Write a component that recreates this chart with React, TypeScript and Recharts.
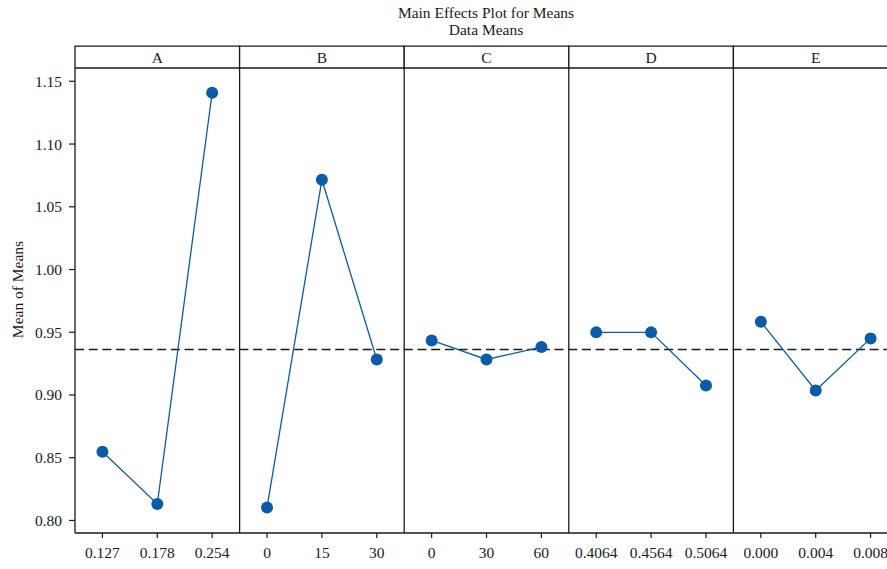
import React from 'react';
import { LineChart, Line, XAxis, YAxis, ReferenceLine, ReferenceArea, Label } from 'recharts';

// Factors and their levels
const factors = ['A', 'B', 'C', 'D', 'E'];
const levelLabels = [
  ['0.127', '0.178', '0.254'],
  ['0', '15', '30'],
  ['0', '30', '60'],
  ['0.4064', '0.4564', '0.5064'],
  ['0.000', '0.004', '0.008'],
];

// Mean response at each level
const meansA = [0.8548, 0.8131, 1.1409];
const meansB = [0.8104, 1.0715, 0.9283];
const meansC = [0.9435, 0.9283, 0.9382];
const meansD = [0.9499, 0.9499, 0.9076];
const meansE = [0.9584, 0.9036, 0.9451];

const yTicks = [0.8, 0.85, 0.9, 0.95, 1.0, 1.05, 1.1, 1.15];
const yMin = 0.79;
const yMax = 1.1606;
const stripSpan = 0.0175; // height of the factor-name strip, in data units

const allMeans = [meansA, meansB, meansC, meansD, meansE];
const levelsPerFactor = 3;

// One row per (factor, level); x is the slot position on a shared axis
const rows: Record<string, number>[] = [];
allMeans.forEach((vals, p) => {
  vals.forEach((v, i) => {
    rows.push({ x: p * levelsPerFactor + i + 0.5, [factors[p]]: v });
  });
});

const xTicks = rows.map((r) => r.x);
const tickText = (x: number) => {
  const idx = Math.round(x - 0.5);
  return levelLabels[Math.floor(idx / levelsPerFactor)][idx % levelsPerFactor];
};

const flat = allMeans.flat();
const grandMean = flat.reduce((a, b) => a + b, 0) / flat.length;

const FONT = '"Liberation Serif", "DejaVu Serif", serif';
const FS = 15.5;
const BLUE = '#0a5ba8';
const INK = '#1a1a1a';

export default function App() {
  const xEnd = factors.length * levelsPerFactor;
  return (
    <div
      style={{
        position: 'absolute',
        left: 0,
        top: 0,
        width: 887,
        height: 569,
        overflow: 'hidden',
        background: '#fff',
        fontFamily: FONT,
      }}
    >
      <div
        style={{
          position: 'absolute',
          left: 286,
          width: 400,
          top: 4,
          textAlign: 'center',
          fontSize: FS,
          lineHeight: '17px',
          color: INK,
        }}
      >
        <div>Main Effects Plot for Means</div>
        <div>Data Means</div>
      </div>
      <LineChart
        width={910}
        height={569}
        data={rows}
        margin={{ top: 68, right: 12, bottom: 0, left: 0 }}
        style={{ position: 'absolute', left: 0, top: 0 }}
      >
        <XAxis
          dataKey="x"
          type="number"
          domain={[0, xEnd]}
          ticks={xTicks}
          interval={0}
          tickFormatter={tickText}
          height={36}
          tickSize={5}
          tickMargin={9}
          allowDataOverflow
          axisLine={{ stroke: INK, strokeWidth: 1.3 }}
          tickLine={{ stroke: INK, strokeWidth: 1.2 }}
          tick={{ fill: INK, fontSize: FS, fontFamily: FONT }}
        />
        <YAxis
          type="number"
          domain={[yMin, yMax]}
          ticks={yTicks}
          allowDataOverflow
          width={75}
          tickSize={6}
          tickMargin={7}
          tickFormatter={(v: number) => v.toFixed(2)}
          axisLine={{ stroke: INK, strokeWidth: 1.3 }}
          tickLine={{ stroke: INK, strokeWidth: 1.2 }}
          tick={{ fill: INK, fontSize: FS, fontFamily: FONT }}
        >
          <Label
            content={(props: any) => {
              const vb = props.viewBox || { x: 0, y: 68, width: 75, height: 465 };
              const cx = vb.x + 17;
              const cy = vb.y + vb.height / 2 - 11;
              return (
                <text
                  x={cx}
                  y={cy}
                  transform={`rotate(-90 ${cx} ${cy})`}
                  textAnchor="middle"
                  dominantBaseline="central"
                  fontSize={FS}
                  fontFamily={FONT}
                  fill={INK}
                >
                  Mean of Means
                </text>
              );
            }}
          />
        </YAxis>

        {/* factor-name strip above each panel */}
        {factors.map((f, p) => (
          <ReferenceArea
            key={`strip-${f}`}
            x1={p * levelsPerFactor}
            x2={(p + 1) * levelsPerFactor}
            y1={yMax}
            y2={yMax + stripSpan}
            ifOverflow="visible"
            fill="#ffffff"
            fillOpacity={1}
            stroke={INK}
            strokeWidth={1.3}
          >
            <Label value={f} position="center" fontSize={FS} fontFamily={FONT} fill={INK} />
          </ReferenceArea>
        ))}

        {/* panel separators */}
        {factors.slice(1).map((f, p) => (
          <ReferenceLine
            key={`sep-${f}`}
            x={(p + 1) * levelsPerFactor}
            stroke={INK}
            strokeWidth={1.3}
          />
        ))}

        <ReferenceLine y={grandMean} stroke={INK} strokeWidth={1.3} strokeDasharray="9 4.7" />

        {factors.map((f) => (
          <Line
            key={f}
            dataKey={f}
            stroke={BLUE}
            strokeWidth={1.3}
            dot={{ r: 6, fill: BLUE, stroke: BLUE, strokeWidth: 0 }}
            activeDot={false}
            isAnimationActive={false}
          />
        ))}
      </LineChart>
    </div>
  );
}
